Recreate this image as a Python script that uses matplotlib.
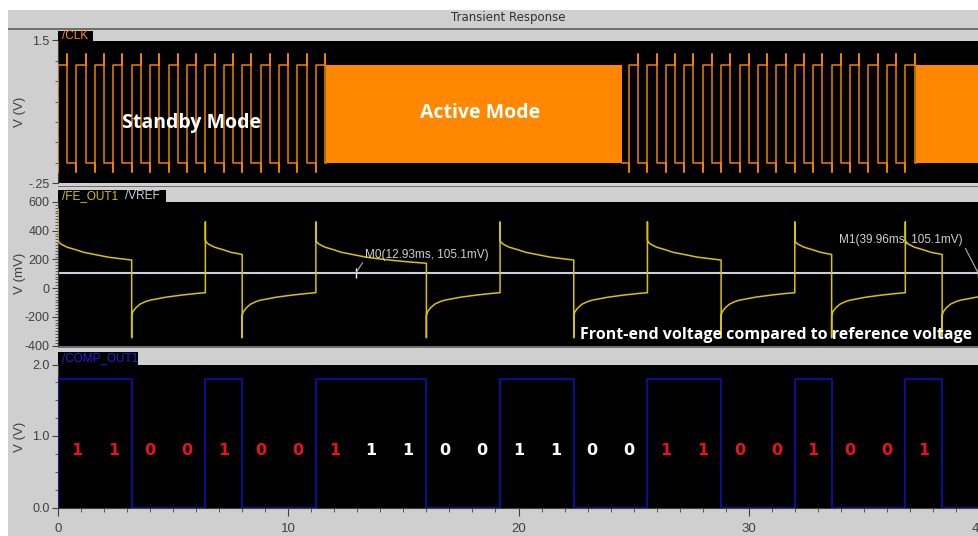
import numpy as np
import matplotlib
matplotlib.use('Agg')
import matplotlib.pyplot as plt
from matplotlib.patches import Rectangle
from matplotlib.ticker import MultipleLocator, FixedLocator

# ---- data ----
# CLK: slow clock in standby, very fast (solid) clock in active mode
clk_period_ms = 0.8
clk_high_v = 1.2
clk_low_v = 0.0
clk_over_v = 1.34
clk_under_v = -0.11
standby_windows = [(0.0, 11.65), (24.5, 37.25)]
active_windows = [(11.65, 24.5), (37.25, 40.0)]

# COMP_OUT1 bit stream (1.6 ms per bit)
bit_ms = 1.6
comp_bits = [1, 1, 0, 0, 1, 0, 0, 1,
             1, 1, 0, 0, 1, 1, 0, 0,
             1, 1, 0, 0, 1, 0, 0, 1,
             0]
comp_high_v = 1.8
label_bits = comp_bits[:24]
label_colors = ['#e8141c'] * 8 + ['white'] * 8 + ['#e8141c'] * 8
label_level_v = 0.8

# FE_OUT1 settling shape after each edge (ms after edge, mV)
fe_hi_spike = 460
fe_first_spike = 550
fe_hi_dt = [0.0, 0.05, 0.15, 0.4, 0.8, 1.1, 1.8, 2.2, 3.1, 4.0, 4.8]
fe_hi_mv = [332, 318, 305, 285, 266, 250, 228, 215, 197, 183, 173]
fe_lo_spike = -345
fe_lo_dt = [0.0, 0.05, 0.17, 0.36, 0.6, 0.8, 1.5, 2.2, 2.9, 3.2]
fe_lo_mv = [-190, -165, -139, -112, -94, -84, -63, -48, -36, -32]
vref_mv = 105.1
markers = [('M0', 12.93), ('M1', 39.96)]

# ---- figure layout (pixel geometry of the reference) ----
W, H = 979, 536
BG = '#cfcfcf'
fig = plt.figure(figsize=(W / 100, H / 100), dpi=100, facecolor='white')


def fx(x):
    return x / W


def fy(y):
    return 1 - y / H


def rect(x0, y0, x1, y1, color, z=0):
    fig.patches.append(Rectangle((fx(x0), fy(y1)), fx(x1) - fx(x0), fy(y0) - fy(y1),
                                 transform=fig.transFigure, facecolor=color,
                                 edgecolor='none', zorder=z))


rect(8, 10, W, H, BG, -5)
rect(8, 28, W, 29.5, '#6e6e6e', -4)
rect(58, 186, W, 187.3, '#6e6e6e', -4)
rect(58, 346, W, 347.5, '#6e6e6e', -4)
fig.text(fx(508), fy(17.5), 'Transient Response', ha='center', va='center',
         fontsize=8.5, color='#303030')

narrow = ['Liberation Sans', 'DejaVu Sans']
bold_font = ['Open Sans', 'DejaVu Sans']
tick_kw = dict(colors='#404040', labelsize=9, direction='out')


def add_panel(top, bottom):
    ax = fig.add_axes([fx(58), fy(bottom), 1 - fx(58), fy(top) - fy(bottom)])
    ax.set_facecolor('black')
    for s in ['top', 'right', 'bottom']:
        ax.spines[s].set_visible(False)
    ax.spines['left'].set_color('#404040')
    ax.set_xlim(0, 40)
    ax.tick_params(axis='y', which='major', length=4, pad=2, **tick_kw)
    ax.tick_params(axis='y', which='minor', length=2, colors='#404040')
    return ax


# ---- panel 1: CLK ----
ax1 = add_panel(40.5, 183)
ax1.set_ylim(-0.25, 1.5)
ax1.set_xticks([])
t_clk, v_clk = [], []
for (a, b) in standby_windows:
    k0 = int(np.ceil(a / (clk_period_ms / 2) - 1e-9))
    k1 = int(np.floor(b / (clk_period_ms / 2) - 1e-9))
    t_clk.append(a)
    v_clk.append(clk_high_v if k0 % 2 == 1 else clk_low_v)
    for k in range(k0, k1 + 1):
        e = k * clk_period_ms / 2
        if k % 2 == 0:
            t_clk += [e, e, e]
            v_clk += [clk_low_v, clk_under_v, clk_high_v]
        else:
            t_clk += [e, e, e]
            v_clk += [clk_high_v, clk_over_v, clk_low_v]
    t_clk.append(b)
    v_clk.append(v_clk[-1])
    t_clk.append(np.nan)
    v_clk.append(np.nan)
ax1.plot(t_clk, v_clk, color='#f08000', lw=1.1, zorder=3)
for (a, b) in active_windows:
    ax1.fill_between([a, b], clk_low_v, clk_high_v, color='#ff8800', lw=0)
ax1.yaxis.set_major_locator(FixedLocator([-0.25, 1.5]))
ax1.set_yticklabels(['-.25', '1.5'], family=narrow)
ax1.yaxis.set_minor_locator(FixedLocator([0, 0.25, 0.5, 0.75, 1.0, 1.25]))
ax1.text(5.82, 0.49, 'Standby Mode', color='white', fontsize=14, fontweight='bold',
         family=bold_font, ha='center', va='center')
ax1.text(18.33, 0.61, 'Active Mode', color='white', fontsize=14, fontweight='bold',
         family=bold_font, ha='center', va='center')

# ---- panel 2: FE_OUT1 / VREF ----
ax2 = add_panel(202, 345.5)
ax2.set_ylim(-400, 600)
ax2.set_xticks([])
edges = np.arange(len(comp_bits) + 1) * bit_ms
runs = []
start = 0
for i in range(1, len(comp_bits) + 1):
    if i == len(comp_bits) or comp_bits[i] != comp_bits[start]:
        runs.append((edges[start], edges[i], comp_bits[start]))
        start = i
t_fe, v_fe = [], []
hi_dt, hi_mv = np.array(fe_hi_dt), np.array(fe_hi_mv)
lo_dt, lo_mv = np.array(fe_lo_dt), np.array(fe_lo_mv)
for n, (a, b, bit) in enumerate(runs):
    dts, mvs = (hi_dt, hi_mv) if bit else (lo_dt, lo_mv)
    spike = (fe_first_spike if n == 0 else fe_hi_spike) if bit else fe_lo_spike
    keep = dts < (b - a)
    t_fe += [a] + list(a + dts[keep]) + [b]
    v_fe += [spike] + list(mvs[keep]) + [np.interp(b - a, dts, mvs)]
ax2.plot(t_fe, v_fe, color='#d8c400', lw=1.1, zorder=3)
ax2.axhline(vref_mv, color='#c8d0e0', lw=1.5)
ax2.yaxis.set_major_locator(MultipleLocator(200))
ax2.yaxis.set_minor_locator(MultipleLocator(20))
ax2.set_yticklabels([str(int(v)) for v in ax2.get_yticks()], family=narrow)
for name, tm in markers:
    ax2.plot([tm], [vref_mv], marker='|', ms=7, color='white', mew=1)
    label = '%s(%.2fms, %.1fmV)' % (name, tm, vref_mv)
    if name == 'M0':
        off, ha, rel = (7, 13), 'left', (0.0, 0.2)
    else:
        off, ha, rel = (-11, 24), 'right', (1.0, 0.2)
    ax2.annotate(label, (tm, vref_mv), xytext=off, textcoords='offset points',
                 ha=ha, va='center', color='#d0d0d0', fontsize=8.5, family=narrow,
                 arrowprops=dict(arrowstyle='-', color='#b0b0b0', lw=0.8,
                                 shrinkA=0, shrinkB=0, relpos=rel))
ax2.text(39.7, -330, 'Front-end voltage compared to reference voltage', color='white',
         fontsize=11.5, fontweight='bold', family=bold_font,
         ha='right', va='center')

# ---- panel 3: COMP_OUT1 ----
ax3 = add_panel(364.5, 507.5)
ax3.set_ylim(0, 2.0)
t_comp = [0.0] + list(edges)
v_comp = [0.0] + [b * comp_high_v for b in comp_bits] + [comp_bits[-1] * comp_high_v]
ax3.step(t_comp, v_comp, where='post', color='#1010b0', lw=1.2, zorder=3)
ax3.yaxis.set_major_locator(FixedLocator([0, 1, 2]))
ax3.set_yticklabels(['0.0', '1.0', '2.0'], family=narrow)
ax3.yaxis.set_minor_locator(MultipleLocator(0.25))
ax3.spines['bottom'].set_visible(True)
ax3.spines['bottom'].set_color('#404040')
ax3.xaxis.set_major_locator(MultipleLocator(10))
ax3.xaxis.set_minor_locator(MultipleLocator(1))
ax3.tick_params(axis='x', which='major', length=6, pad=5, colors='#404040',
                labelsize=9.5, direction='out')
ax3.tick_params(axis='x', which='minor', length=3, colors='#404040')
ax3.set_xticklabels([str(int(v)) for v in ax3.get_xticks()], family=narrow)
for i, (b, c) in enumerate(zip(label_bits, label_colors)):
    ax3.text((i + 0.5) * bit_ms, label_level_v, str(b), color=c, fontsize=11.5,
             fontweight='bold', ha='center', va='center')

# ---- tabs and axis titles ----
rect(58, 31, 93, 40.5, 'black', 1)
fig.text(fx(62), fy(36), '/CLK', color='#ff8c00', fontsize=8.5, family=narrow, va='center')
rect(58, 189.5, 166, 202, 'black', 1)
fig.text(fx(62), fy(196), '/FE_OUT1', color='#d8c400', fontsize=8.5, family=narrow, va='center')
fig.text(fx(125), fy(196), '/VREF', color='#c8d0e0', fontsize=8.5, family=narrow, va='center')
rect(58, 351.5, 138, 364.5, 'black', 1)
fig.text(fx(62), fy(358), '/COMP_OUT1', color='#2020e0', fontsize=8.5, family=narrow, va='center')

for y, s in [(112, 'V (V)'), (273, 'V (mV)'), (437, 'V (V)')]:
    fig.text(fx(20), fy(y), s, rotation=90, ha='center', va='center',
             color='#404040', fontsize=9.5, family=narrow)

fig.savefig('out.png', dpi=100, facecolor=fig.get_facecolor())
